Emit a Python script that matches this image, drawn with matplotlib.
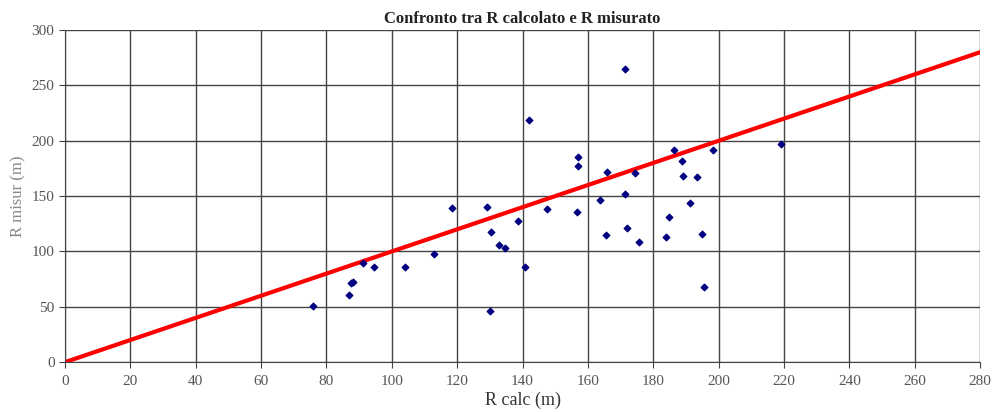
import numpy as np
import matplotlib.pyplot as plt

# R calcolato vs R misurato
r_calc = [75.9, 86.9, 88.2, 91.3, 94.6, 104.1, 113.0, 118.3, 129.2, 130.5,
          130.0, 132.7, 134.7, 138.5, 140.9, 147.4, 156.8, 171.4, 157.1, 157.1,
          165.9, 163.7, 165.4, 171.4, 171.9, 174.3, 175.6, 183.8, 184.9, 186.4,
          188.7, 189.2, 191.1, 193.4, 194.8, 195.5, 198.3, 219.1, 142.0, 87.5]
r_misur = [50.6, 60.5, 72.5, 90.0, 86.4, 86.4, 98.1, 139.7, 140.3, 117.7,
           45.8, 105.4, 102.7, 127.6, 85.8, 138.8, 135.8, 264.7, 185.7, 177.6,
           171.9, 146.9, 114.7, 151.8, 121.3, 171.0, 108.7, 113.2, 131.0, 192.1,
           182.1, 168.3, 143.9, 166.9, 116.2, 67.5, 191.8, 197.5, 219.0, 71.5]
line_x = [0, 280]
line_y = [0, 280]

plt.rcParams['font.family'] = ['Liberation Serif', 'DejaVu Serif']

fig = plt.figure(figsize=(9.92, 4.12), dpi=100)
ax = fig.add_axes([0.0655, 0.121, 0.9225, 0.806])

ax.plot(line_x, line_y, color='#ff0000', lw=3, zorder=2)
ax.scatter(r_calc, r_misur, marker='D', s=11, color='#000080', zorder=3)

ax.set_xlim(0, 280)
ax.set_ylim(0, 300)
ax.set_xticks(np.arange(0, 281, 20))
ax.set_yticks(np.arange(0, 301, 50))
ax.grid(True, color='#444444', lw=1)
ax.set_axisbelow(True)
for s in ['top', 'right']:
    ax.spines[s].set_visible(False)
for s in ['left', 'bottom']:
    ax.spines[s].set_color('#444444')
ax.tick_params(colors='#444444', labelcolor='#555555', labelsize=11, length=4)
ax.tick_params(axis='x', pad=5)

ax.set_title('Confronto tra R calcolato e R misurato', fontsize=12,
             fontweight='bold', color='#222222', pad=5)
ax.set_xlabel('R calc (m)', fontsize=13, color='#333333', labelpad=3)
ax.set_ylabel('R misur (m)', fontsize=12, color='#888888', labelpad=4)

plt.savefig('out.png')
